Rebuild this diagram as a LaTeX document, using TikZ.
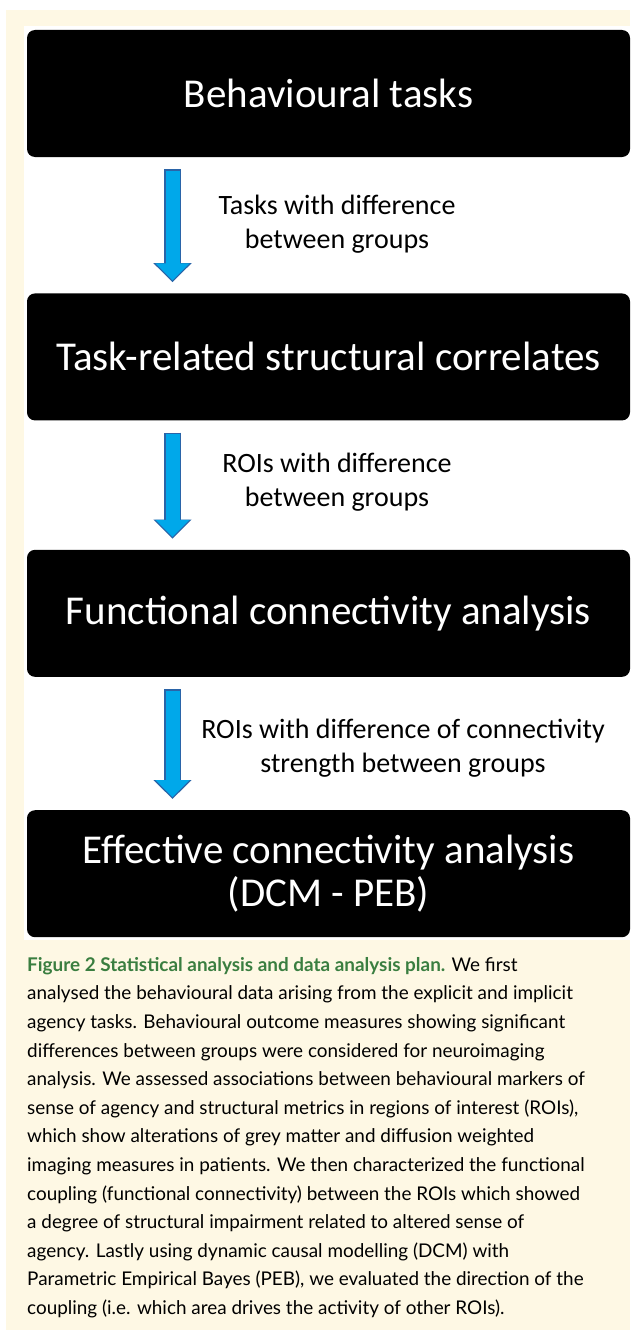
\documentclass[tikz,border=0pt]{standalone}
\usepackage{fontspec}
\setmainfont{Carlito}
\newfontfamily\capfont{Lato}
\usetikzlibrary{arrows.meta, positioning}
\definecolor{creambg}{RGB}{254,248,228}
\definecolor{arrowfill}{RGB}{0,168,234}
\definecolor{arrowedge}{RGB}{42,100,168}
\definecolor{figgreen}{RGB}{58,126,64}

\begin{document}
\begin{tikzpicture}[x=1pt, y=-1pt,
    stage/.style={rectangle, fill=black, text=white, minimum width=603pt, minimum height=127pt, rounded corners=8pt, align=center, inner sep=0pt, font=\fontsize{41}{43}\selectfont},
    flowout/.style={line width=17pt, draw=arrowedge, -{Triangle[width=37pt,length=19pt]}, shorten <=12pt, shorten >=11pt},
    flowin/.style={line width=14pt, draw=arrowfill, -{Triangle[width=33pt,length=17pt]}, shorten <=13.5pt, shorten >=12.8pt},
    note/.style={align=center, font=\fontsize{28}{34}\selectfont}
  ]
  % page, cream band and white panel
  \fill[white] (0,0) rectangle (630,1330);
  \fill[creambg] (6,10) rectangle (630,1330);
  \fill[white] (24,26) rectangle (630,940);
  \useasboundingbox (0,0) rectangle (630,1330);

  \node[stage] (tasks) at (328.5,93.5) {Behavioural tasks};
  \node[stage, below=136pt of tasks] (structural) {Task-related structural correlates};
  \node[stage, below=129pt of structural] (functional) {Functional connectivity analysis};
  \node[stage, below=133pt of functional] (effective) {Effective connectivity analysis\\(DCM - PEB)};

  \draw[flowout] ([xshift=-156pt]tasks.south) -- ([xshift=-156pt]structural.north);
  \draw[flowin] ([xshift=-156pt]tasks.south) -- ([xshift=-156pt]structural.north);
  \draw[flowout] ([xshift=-156pt]structural.south) -- ([xshift=-156pt]functional.north);
  \draw[flowin] ([xshift=-156pt]structural.south) -- ([xshift=-156pt]functional.north);
  \draw[flowout] ([xshift=-156pt]functional.south) -- ([xshift=-156pt]effective.north);
  \draw[flowin] ([xshift=-156pt]functional.south) -- ([xshift=-156pt]effective.north);

  \node[note] (taskdiff) at (337,224) {Tasks with difference\\between groups};
  \node[note] (roidiff) at (337,482) {ROIs with difference\\between groups};
  \node[note] (conndiff) at (403,748) {ROIs with difference of connectivity\\strength between groups};

  \node[anchor=north west, inner sep=0pt, align=left, font=\capfont\fontsize{18.9}{28.6}\selectfont] (legend) at (27,957)
    {{\bfseries\color{figgreen}Figure 2 Statistical analysis and data analysis plan.} We first\\
     analysed the behavioural data arising from the explicit and implicit\\
     agency tasks. Behavioural outcome measures showing significant\\
     differences between groups were considered for neuroimaging\\
     analysis. We assessed associations between behavioural markers of\\
     sense of agency and structural metrics in regions of interest (ROIs),\\
     which show alterations of grey matter and diffusion weighted\\
     imaging measures in patients. We then characterized the functional\\
     coupling (functional connectivity) between the ROIs which showed\\
     a degree of structural impairment related to altered sense of\\
     agency. Lastly using dynamic causal modelling (DCM) with\\
     Parametric Empirical Bayes (PEB), we evaluated the direction of the\\
     coupling (i.e. which area drives the activity of other ROIs).};
\end{tikzpicture}
\end{document}
